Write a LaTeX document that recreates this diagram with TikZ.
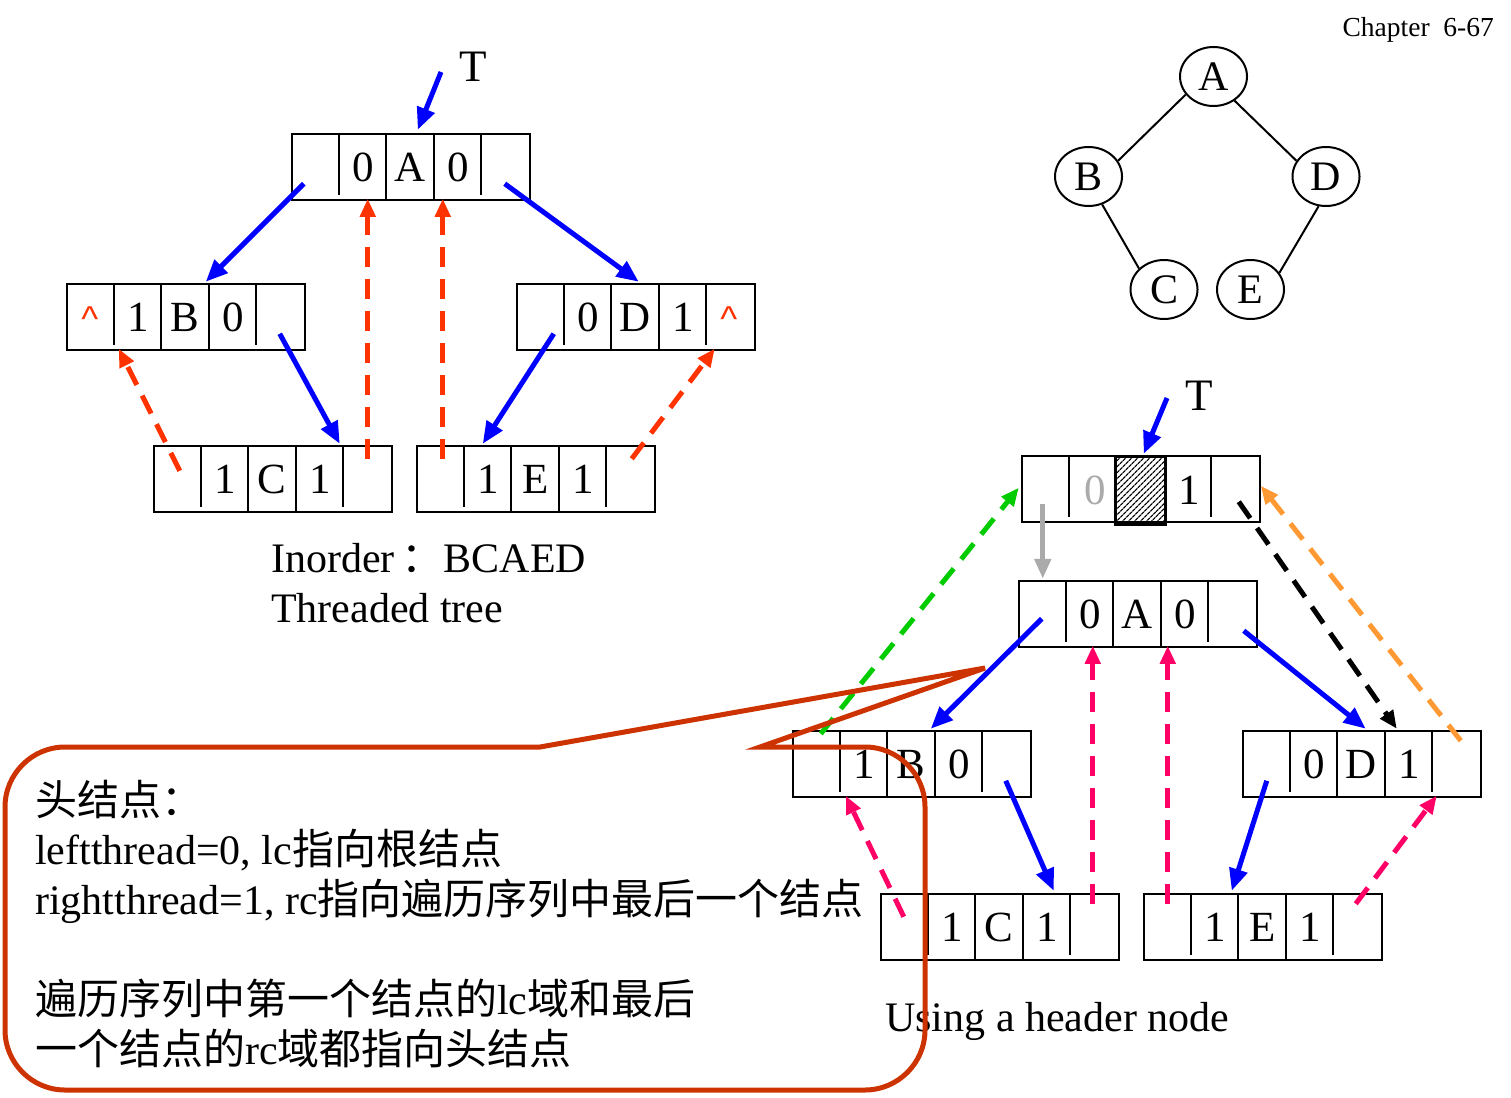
\documentclass[tikz,border=0pt]{standalone}
\usepackage{fontspec}
\setmainfont{Liberation Serif}
\newfontfamily\cjk{Noto Sans CJK SC}
\newfontfamily\caretfont{Liberation Sans}
\usetikzlibrary{arrows.meta,patterns,patterns.meta,shapes.geometric}
\definecolor{tblue}{RGB}{0,0,255}
\definecolor{tred}{RGB}{255,51,0}
\definecolor{tgreen}{RGB}{0,204,0}
\definecolor{torange}{RGB}{255,153,51}
\definecolor{tpink}{RGB}{255,0,102}
\definecolor{tcall}{RGB}{204,51,0}
\definecolor{tgrey}{RGB}{170,170,170}
\tikzset{
  rec/.style={draw, line width=2.5pt, minimum width=238pt, minimum height=66pt, inner sep=0pt},
  div/.style={line width=2.5pt},
  lbl/.style={inner sep=0pt, font=\fontsize{43}{50}\selectfont, anchor=base},
  caret/.style={inner sep=0pt, font=\caretfont\fontsize{36}{36}\selectfont, text=tred, anchor=base},
  bluearr/.style={draw=tblue, line width=5pt, -{Triangle[length=22pt,width=18pt,fill=tblue]}},
  dasharr/.style={line width=5pt, dash pattern=on 20pt off 12pt, -{Triangle[length=18pt,width=15pt]}},
  tnode/.style={draw, ellipse, line width=2pt, minimum width=67pt, minimum height=59pt, inner sep=0pt, font=\fontsize{42}{48}\selectfont},
  tedge/.style={line width=2pt},
  txt/.style={inner sep=0pt, anchor=base west, font=\fontsize{42}{50}\selectfont},
  callout/.style={draw=tcall, line width=5pt, line join=miter},
}
% #1 name, #2 left x, #3 top y, #4 #5 #6 texts of cells 2,3,4
\newcommand\recnode[6]{%
  \node[rec] (#1) at (#2+119,#3+33) {};
  \draw[div] ([shift={(48,0)}]#1.north west) -- ++(0,62);
  \draw[div] ([shift={(95,0)}]#1.north west) -- ++(0,66);
  \draw[div] ([shift={(143,0)}]#1.north west) -- ++(0,66);
  \draw[div] ([shift={(190,0)}]#1.north west) -- ++(0,62);
  \node[lbl] (#1-2) at ([shift={(72,49)}]#1.north west) {#4};
  \node[lbl] (#1-3) at ([shift={(119.5,49)}]#1.north west) {#5};
  \node[lbl] (#1-4) at ([shift={(167,49)}]#1.north west) {#6};
}
\begin{document}
\begin{tikzpicture}[x=1pt,y=-1pt]
\fill[white] (0,0) rectangle (1511,1097);
\useasboundingbox (0,0) rectangle (1511,1097);

% header text
\node[inner sep=0pt, anchor=base east, font=\fontsize{27.5}{30}\selectfont] (chap) at (1494,37) {Chapter\ \ 6-67};

% ---------- binary tree (top right) ----------
\node[tnode] (trA) at (1213.5,76.5) {A};
\node[tnode] (trB) at (1088.5,176.5) {B};
\node[tnode] (trD) at (1326,176.5) {D};
\node[tnode] (trC) at (1164,289.5) {C};
\node[tnode] (trE) at (1250.5,289.5) {E};
\draw[tedge] (trA.213) -- (trB.28);
\draw[tedge] (trA.311) -- (trD.152);
\draw[tedge] (trB.296) -- (trC.140);
\draw[tedge] (trD.256) -- (trE.30);

% ---------- threaded tree (top left) ----------
\recnode{tA}{292}{134}{0}{A}{0}
\recnode{tB}{67}{284}{1}{B}{0}
\recnode{tD}{517}{284}{0}{D}{1}
\recnode{tC}{154}{446}{1}{C}{1}
\recnode{tE}{417}{446}{1}{E}{1}
\node[caret] (tB-1) at ([shift={(24,49)}]tB.north west) {\textasciicircum};
\node[caret] (tD-5) at ([shift={(213,49)}]tD.north west) {\textasciicircum};

\node[inner sep=0pt, anchor=base west, font=\fontsize{45}{50}\selectfont] (tTl) at (459,82) {T};
\coordinate (tT) at (441,72);
\draw[bluearr] (tT) -- ([shift={(127,-3)}]tA.north west);
\draw[bluearr] ([shift={(13,51)}]tA.north west) -- ([shift={(140,-1)}]tB.north west);
\draw[bluearr] ([shift={(214,51)}]tA.north west) -- ([shift={(123,-1)}]tD.north west);
\draw[bluearr] ([shift={(214,51)}]tB.north west) -- ([shift={(187,-1)}]tC.north west);
\draw[bluearr] ([shift={(38,51)}]tD.north west) -- ([shift={(67,-1)}]tE.north west);

\draw[dasharr, tred] ([shift={(27,26)}]tC.north west) -- ([shift={(53,66)}]tB.north west);
\draw[dasharr, tred] ([shift={(215,14)}]tC.north west) -- ([shift={(77,66)}]tA.north west);
\draw[dasharr, tred] ([shift={(27,14)}]tE.north west) -- ([shift={(152,66)}]tA.north west);
\draw[dasharr, tred] ([shift={(216,14)}]tE.north west) -- ([shift={(199,66)}]tD.north west);

\node[txt] (inord) at (271,572) {Inorder\,{\cjk ：}BCAED};
\node[txt] (thr) at (271,622) {Threaded tree};

% ---------- with header node (bottom right) ----------
\node[rec] (hH) at (1022+119,456+33) {};
\draw[div] ([shift={(48,0)}]hH.north west) -- ++(0,62);
\draw[div] ([shift={(190,0)}]hH.north west) -- ++(0,62);
\node[draw, line width=3pt, pattern={Lines[angle=45,distance=4pt,line width=1.3pt]}, minimum width=50pt, minimum height=68pt, inner sep=0pt] (hH-3) at (1140,490) {};
\node[lbl, text=tgrey] (hH-2) at ([shift={(74,50)}]hH.north west) {0};
\node[lbl] (hH-4) at ([shift={(168,50)}]hH.north west) {1};

\recnode{hA}{1019}{581}{0}{A}{0}
\recnode{hB}{793}{731}{1}{B}{0}
\recnode{hD}{1243}{731}{0}{D}{1}
\recnode{hC}{881}{894}{1}{C}{1}
\recnode{hE}{1144}{894}{1}{E}{1}

\node[inner sep=0pt, anchor=base west, font=\fontsize{45}{50}\selectfont] (hTl) at (1185,410) {T};
\coordinate (hT) at (1167,398);
\draw[bluearr] (hT) -- ([shift={(123,-1)}]hH.north west);
\draw[bluearr] ([shift={(24,39)}]hA.north west) -- ([shift={(139,-1)}]hB.north west);
\draw[bluearr] ([shift={(226,51)}]hA.north west) -- ([shift={(124,-1)}]hD.north west);
\draw[bluearr] ([shift={(214,51)}]hB.north west) -- ([shift={(174,-2)}]hC.north west);
\draw[bluearr] ([shift={(25,51)}]hD.north west) -- ([shift={(89,-2)}]hE.north west);
\draw[draw=tgrey, line width=5pt, -{Triangle[length=20pt,width=16pt,fill=tgrey]}] ([shift={(22,49)}]hH.north west) -- ([shift={(25,-1)}]hA.north west);

\draw[dasharr, tgreen] ([shift={(29,4)}]hB.north west) -- ([shift={(-2,33)}]hH.north west);
\draw[dasharr, black] ([shift={(218,47)}]hH.north west) -- ([shift={(155,-1)}]hD.north west);
\draw[dasharr, torange] ([shift={(219,11)}]hD.north west) -- ([shift={(240,31)}]hH.north west);

\draw[dasharr, tpink] ([shift={(24,24)}]hC.north west) -- ([shift={(54,66)}]hB.north west);
\draw[dasharr, tpink] ([shift={(213,11)}]hC.north west) -- ([shift={(75,66)}]hA.north west);
\draw[dasharr, tpink] ([shift={(25,11)}]hE.north west) -- ([shift={(150,66)}]hA.north west);
\draw[dasharr, tpink] ([shift={(213,11)}]hE.north west) -- ([shift={(195,66)}]hD.north west);

\node[txt] (hdr) at (885,1031) {Using a header node};

% ---------- callout ----------
\draw[callout] (540,747) -- (65,747) .. controls (32,747) and (5,774) .. (5,807)
  -- (5,1030) .. controls (5,1063) and (32,1090) .. (65,1090)
  -- (865,1090) .. controls (898,1090) and (925,1063) .. (925,1030)
  -- (925,807) .. controls (925,774) and (898,747) .. (865,747)
  -- (760,747) -- (985,668) -- cycle;

\node[txt] (c1) at (35,815) {{\cjk 头结点：}};
\node[txt] (c2) at (35,864) {leftthread=0, lc{\cjk 指向根结点}};
\node[txt] (c3) at (35,914) {rightthread=1, rc{\cjk 指向遍历序列中最后一个结点}};
\node[txt] (c4) at (35,1014) {{\cjk 遍历序列中第一个结点的}lc{\cjk 域和最后}};
\node[txt] (c5) at (35,1064) {{\cjk 一个结点的}rc{\cjk 域都指向头结点}};
\end{tikzpicture}
\end{document}
